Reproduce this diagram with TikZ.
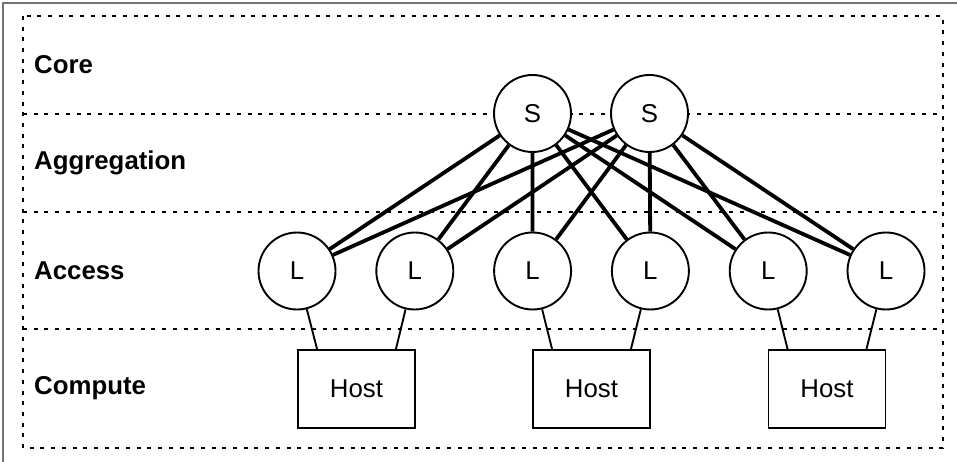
\documentclass[tikz,border=0pt]{standalone}
\usepackage{fontspec}
\setmainfont{Liberation Sans}
\begin{document}
\begin{tikzpicture}[x=1pt,y=-1pt,
  every node/.style={font=\fontsize{25.8}{30}\selectfont},
  layerline/.style={line width=2pt,dash pattern=on 4pt off 6.7pt},
  layerlabel/.style={anchor=west,inner sep=0pt,font=\fontsize{25.8}{30}\selectfont\bfseries},
  switch/.style={circle,draw,line width=1.9pt,fill=white,minimum size=77pt,inner sep=0pt},
  hostbox/.style={rectangle,draw,line width=1.9pt,fill=white,minimum width=117pt,minimum height=78pt,inner sep=0pt},
  uplink/.style={line width=3.8pt},
  hostlink/.style={line width=1.9pt}]
\useasboundingbox (0,0) rectangle (957,462);

% outer frame (top and left edges)
\draw[line width=1.4pt,black!55] (3,462) -- (3,3) -- (957,3);

% layer boundaries
\draw[layerline] (23,16) rectangle (943,448);
\draw[layerline] (23,114) -- (943,114);
\draw[layerline] (23,212) -- (943,212);
\draw[layerline] (23,329) -- (943,329);

% layer names
\node[layerlabel] (core)  at (34,65)    {Core};
\node[layerlabel] (aggr)  at (34,163)   {Aggregation};
\node[layerlabel] (acc)   at (34,270.5) {Access};
\node[layerlabel] (comp)  at (34,388.5) {Compute};

% spine switches
\node[switch] (s1) at (532.5,113.5) {S};
\node[switch] (s2) at (649.5,113.5) {S};

% leaf switches
\foreach \i/\x in {1/297,2/414.8,3/532.6,4/650.4,5/768.2,6/886}
  \node[switch] (l\i) at (\x,271) {L};

% hosts
\node[hostbox] (h1) at (356.5,389) {Host};
\node[hostbox] (h2) at (591.5,389) {Host};
\node[hostbox] (h3) at (827,389) {Host};

% spine-leaf mesh
\foreach \s in {s1,s2}
  \foreach \l in {l1,l2,l3,l4,l5,l6}
    \draw[uplink] (\s) -- (\l);

% host attachments
\coordinate (h1a) at ([xshift=20pt]h1.north west);
\coordinate (h1b) at ([xshift=-20pt]h1.north east);
\coordinate (h2a) at ([xshift=20pt]h2.north west);
\coordinate (h2b) at ([xshift=-20pt]h2.north east);
\coordinate (h3a) at ([xshift=20pt]h3.north west);
\coordinate (h3b) at ([xshift=-20pt]h3.north east);
\draw[hostlink] (h1a) -- (l1);
\draw[hostlink] (h1b) -- (l2);
\draw[hostlink] (h2a) -- (l3);
\draw[hostlink] (h2b) -- (l4);
\draw[hostlink] (h3a) -- (l5);
\draw[hostlink] (h3b) -- (l6);
\end{tikzpicture}
\end{document}
